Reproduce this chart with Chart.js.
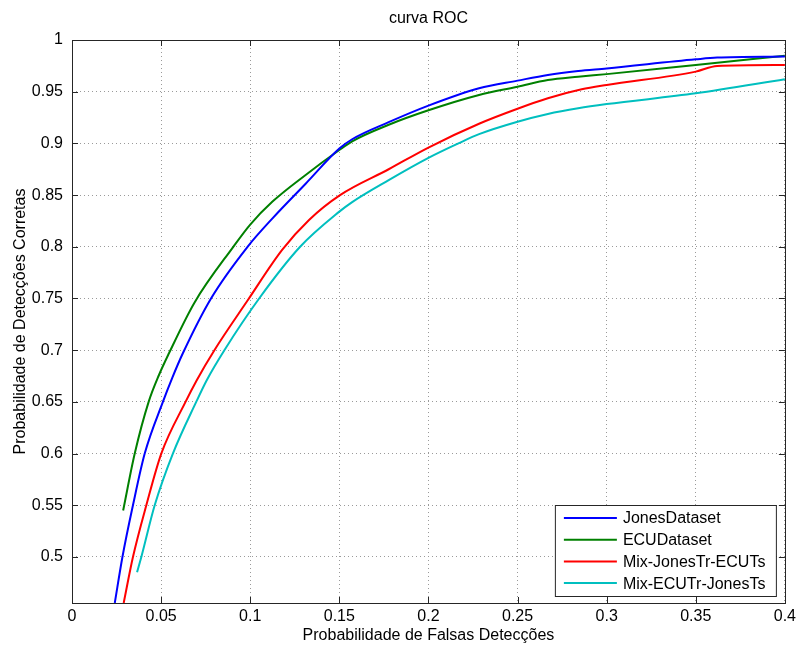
<!DOCTYPE html>
<html>
<head>
<meta charset="utf-8">
<title>curva ROC</title>
<script src="https://cdn.jsdelivr.net/npm/chart.js@4.4.1/dist/chart.umd.min.js"></script>
<style>
  html, body { margin: 0; padding: 0; background: #fff; }
  #roc { display: block; }
</style>
</head>
<body>
<canvas id="roc" width="800" height="648"></canvas>
<script>
// axis ticks
const xTicks = [0, 0.05, 0.1, 0.15, 0.2, 0.25, 0.3, 0.35, 0.4];
const xTickLabels = ['0', '0.05', '0.1', '0.15', '0.2', '0.25', '0.3', '0.35', '0.4'];
const yTicks = [0.5, 0.55, 0.6, 0.65, 0.7, 0.75, 0.8, 0.85, 0.9, 0.95, 1];
const yTickLabels = ['0.5', '0.55', '0.6', '0.65', '0.7', '0.75', '0.8', '0.85', '0.9', '0.95', '1'];

const seriesNames = ['JonesDataset', 'ECUDataset', 'Mix-JonesTr-ECUTs', 'Mix-ECUTr-JonesTs'];

// false detection rate / correct detection rate per experiment
const jonesFpr = [0.024, 0.0283, 0.0342, 0.0408, 0.051, 0.0562, 0.0622, 0.078, 0.0985, 0.1125, 0.1311, 0.15, 0.1572, 0.1777, 0.2, 0.2284, 0.25, 0.267, 0.284, 0.3, 0.35, 0.362, 0.4];
const jonesTpr = [0.4555, 0.5, 0.55, 0.6, 0.65, 0.673, 0.697, 0.75, 0.8, 0.8275, 0.861, 0.895, 0.904, 0.9205, 0.9365, 0.9533, 0.9607, 0.9662, 0.970, 0.9725, 0.9813, 0.983, 0.984];

const ecuFpr = [0.0287, 0.0352, 0.043, 0.0488, 0.0544, 0.0687, 0.0905, 0.1, 0.1125, 0.1311, 0.15, 0.1572, 0.1777, 0.2, 0.2284, 0.25, 0.267, 0.284, 0.3, 0.35, 0.4];
const ecuTpr = [0.545, 0.6, 0.65, 0.676, 0.697, 0.746, 0.8, 0.8215, 0.8437, 0.8695, 0.8936, 0.902, 0.918, 0.932, 0.9468, 0.9548, 0.9613, 0.9645, 0.967, 0.9758, 0.9848];

const mixJonesFpr = [0.029, 0.0342, 0.0417, 0.0501, 0.0637, 0.070, 0.0799, 0.0985, 0.1179, 0.133, 0.1504, 0.1777, 0.2, 0.2284, 0.25, 0.267, 0.286, 0.3, 0.35, 0.362, 0.4];
const mixJonesTpr = [0.4555, 0.5, 0.55, 0.6, 0.65, 0.671, 0.7, 0.748, 0.797, 0.826, 0.85, 0.875, 0.896, 0.919, 0.9335, 0.9436, 0.9523, 0.9565, 0.9694, 0.9749, 0.9758];

const mixEcuFpr = [0.0365, 0.0389, 0.0464, 0.0566, 0.0697, 0.0756, 0.0855, 0.105, 0.128, 0.15, 0.157, 0.1777, 0.2, 0.2168, 0.2284, 0.25, 0.267, 0.284, 0.3, 0.35, 0.4];
const mixEcuTpr = [0.4853, 0.5, 0.55, 0.6, 0.65, 0.671, 0.7, 0.75, 0.8, 0.834, 0.843, 0.8645, 0.886, 0.9, 0.909, 0.921, 0.9285, 0.934, 0.938, 0.9484, 0.962];

const lineColors = ['#0000ff', '#008000', '#ff0000', '#00bfbf'];
const FONT = '"Liberation Sans", Arial, sans-serif';

const toPoints = (xs, ys) => xs.map((x, i) => ({ x, y: ys[i] }));

// MATLAB style frame: box, inward ticks, title and legend
const matlabFrame = {
  id: 'matlabFrame',
  afterDraw(chart) {
    const { ctx, chartArea: a, scales: { x, y } } = chart;
    ctx.save();
    ctx.strokeStyle = '#262626';
    ctx.lineWidth = 1;
    ctx.beginPath();
    xTicks.forEach(v => {
      const px = Math.round(x.getPixelForValue(v)) + 0.5;
      ctx.moveTo(px, a.bottom); ctx.lineTo(px, a.bottom - 6);
      ctx.moveTo(px, a.top); ctx.lineTo(px, a.top + 6);
    });
    yTicks.forEach(v => {
      const py = Math.round(y.getPixelForValue(v)) + 0.5;
      ctx.moveTo(a.left, py); ctx.lineTo(a.left + 6, py);
      ctx.moveTo(a.right, py); ctx.lineTo(a.right - 6, py);
    });
    ctx.stroke();
    ctx.strokeRect(Math.round(a.left) + 0.5, Math.round(a.top) + 0.5,
      Math.round(a.right - a.left), Math.round(a.bottom - a.top));

    ctx.fillStyle = '#000';
    ctx.font = '16px ' + FONT;
    ctx.textAlign = 'center';
    ctx.textBaseline = 'middle';
    ctx.fillText('curva ROC', (a.left + a.right) / 2, 19);

    // legend box in the lower right corner
    const box = { left: a.right - 230, top: a.bottom - 98, width: 221, height: 91 };
    ctx.fillStyle = '#fff';
    ctx.fillRect(box.left, box.top, box.width, box.height);
    ctx.strokeStyle = '#262626';
    ctx.strokeRect(box.left + 0.5, box.top + 0.5, box.width, box.height);
    ctx.textAlign = 'left';
    chart.data.datasets.forEach((ds, i) => {
      const cy = box.top + 13 + i * 21.7;
      ctx.strokeStyle = ds.borderColor;
      ctx.lineWidth = 2;
      ctx.beginPath();
      ctx.moveTo(box.left + 9, cy);
      ctx.lineTo(box.left + 62, cy);
      ctx.stroke();
      ctx.fillStyle = '#000';
      ctx.fillText(ds.label, box.left + 68, cy + 1);
    });
    ctx.restore();
  }
};

const ctx = document.getElementById('roc');
new Chart(ctx, {
  type: 'scatter',
  data: {
    datasets: [
      [jonesFpr, jonesTpr],
      [ecuFpr, ecuTpr],
      [mixJonesFpr, mixJonesTpr],
      [mixEcuFpr, mixEcuTpr]
    ].map(([xs, ys], i) => ({
      label: seriesNames[i],
      data: toPoints(xs, ys),
      showLine: true,
      borderColor: lineColors[i],
      backgroundColor: lineColors[i],
      borderWidth: 2,
      pointRadius: 0,
      fill: false,
      cubicInterpolationMode: 'monotone'
    }))
  },
  options: {
    responsive: false,
    animation: false,
    layout: { padding: { top: 40, right: 12, left: 0, bottom: 0 } },
    plugins: { legend: { display: false }, title: { display: false }, tooltip: { enabled: false } },
    scales: {
      x: {
        type: 'linear', min: 0, max: 0.4,
        afterBuildTicks: s => { s.ticks = xTicks.map(v => ({ value: v })); },
        afterFit: s => { s.height = 45; },
        ticks: { callback: (v, i) => xTickLabels[i], color: '#000', font: { family: FONT, size: 16 }, padding: 4, maxRotation: 0 },
        grid: { color: '#9a9a9a', lineWidth: 1, drawTicks: false },
        border: { display: false, dash: [1, 3] },
        title: { display: true, text: 'Probabilidade de Falsas Detecções', color: '#000', font: { family: FONT, size: 16 }, padding: { top: 0, bottom: 3 } }
      },
      y: {
        type: 'linear', min: 0.4555, max: 1,
        afterBuildTicks: s => { s.ticks = yTicks.map(v => ({ value: v })); },
        afterFit: s => { s.width = 72; },
        ticks: { callback: (v, i) => yTickLabels[i], color: '#000', font: { family: FONT, size: 16 }, padding: 9 },
        grid: { color: '#9a9a9a', lineWidth: 1, drawTicks: false },
        border: { display: false, dash: [1, 3] },
        title: { display: true, text: 'Probabilidade de Detecções Corretas', color: '#000', font: { family: FONT, size: 16 }, padding: { top: 11, bottom: 0 } }
      }
    }
  },
  plugins: [matlabFrame]
});
</script>
</body>
</html>
